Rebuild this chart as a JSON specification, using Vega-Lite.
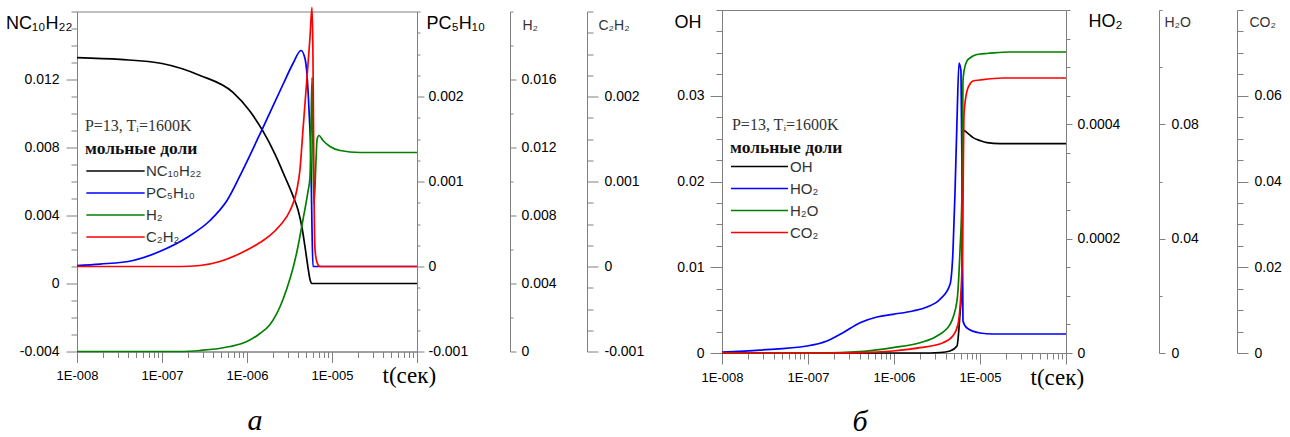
{
  "$schema": "https://vega.github.io/schema/vega-lite/v6.json",
  "background": "white",
  "padding": {"left": 4, "top": 2, "right": 0, "bottom": 0},
  "bounds": "flush",
  "spacing": 305,
  "center": true,
  "config": {
    "view": {"stroke": "#808080", "strokeWidth": 1},
    "axis": {"grid": false, "labelFont": "Liberation Sans", "labelFontSize": 14, "labelColor": "#000", "titleFont": "Liberation Sans", "titleFontWeight": "normal", "titleColor": "#000", "domainColor": "#808080", "tickColor": "#808080", "labelOverlap": false, "labelFlush": false},
    "line": {"strokeWidth": 1.7, "interpolate": "monotone", "clip": true}
  },
  "resolve": {"scale": {"color": "independent"}, "legend": {"color": "independent"}},
  "datasets": {
    "L": [
      {"s": "NC₁₀H₂₂", "t": 1e-8, "v": 0.01329},
      {"s": "NC₁₀H₂₂", "t": 3.21e-8, "v": 0.01318},
      {"s": "NC₁₀H₂₂", "t": 1e-7, "v": 0.01294},
      {"s": "NC₁₀H₂₂", "t": 2.8e-7, "v": 0.01224},
      {"s": "NC₁₀H₂₂", "t": 6.84e-7, "v": 0.011245},
      {"s": "NC₁₀H₂₂", "t": 1.084e-6, "v": 0.010132},
      {"s": "NC₁₀H₂₂", "t": 1.542e-6, "v": 0.00896},
      {"s": "NC₁₀H₂₂", "t": 2.133e-6, "v": 0.007613},
      {"s": "NC₁₀H₂₂", "t": 2.8e-6, "v": 0.006266},
      {"s": "NC₁₀H₂₂", "t": 3.475e-6, "v": 0.005154},
      {"s": "NC₁₀H₂₂", "t": 3.98e-6, "v": 0.004334},
      {"s": "NC₁₀H₂₂", "t": 4.44e-6, "v": 0.00328},
      {"s": "NC₁₀H₂₂", "t": 4.81e-6, "v": 0.002167},
      {"s": "NC₁₀H₂₂", "t": 5.22e-6, "v": 0.000937},
      {"s": "NC₁₀H₂₂", "t": 5.51e-6, "v": 0.000234},
      {"s": "NC₁₀H₂₂", "t": 5.82e-6, "v": 0},
      {"s": "NC₁₀H₂₂", "t": 1e-4, "v": 0},
      {"s": "PC₅H₁₀", "t": 1e-8, "v": 0.000012},
      {"s": "PC₅H₁₀", "t": 1.866e-8, "v": 0.000029},
      {"s": "PC₅H₁₀", "t": 4.56e-8, "v": 0.000071},
      {"s": "PC₅H₁₀", "t": 1e-7, "v": 0.000188},
      {"s": "PC₅H₁₀", "t": 1.97e-7, "v": 0.000341},
      {"s": "PC₅H₁₀", "t": 3.67e-7, "v": 0.000541},
      {"s": "PC₅H₁₀", "t": 5.82e-7, "v": 0.000776},
      {"s": "PC₅H₁₀", "t": 8.98e-7, "v": 0.001141},
      {"s": "PC₅H₁₀", "t": 1.542e-6, "v": 0.001635},
      {"s": "PC₅H₁₀", "t": 2.65e-6, "v": 0.002141},
      {"s": "PC₅H₁₀", "t": 3.475e-6, "v": 0.002388},
      {"s": "PC₅H₁₀", "t": 4.32e-6, "v": 0.002541},
      {"s": "PC₅H₁₀", "t": 4.81e-6, "v": 0.002447},
      {"s": "PC₅H₁₀", "t": 5.08e-6, "v": 0.002259},
      {"s": "PC₅H₁₀", "t": 5.36e-6, "v": 0.001847},
      {"s": "PC₅H₁₀", "t": 5.66e-6, "v": 0.0012},
      {"s": "PC₅H₁₀", "t": 5.82e-6, "v": 0.000435},
      {"s": "PC₅H₁₀", "t": 5.97e-6, "v": 0},
      {"s": "PC₅H₁₀", "t": 1e-4, "v": 0},
      {"s": "H₂", "t": 1e-8, "v": 0},
      {"s": "H₂", "t": 1.63e-7, "v": 0},
      {"s": "H₂", "t": 2.8e-7, "v": 0.000059},
      {"s": "H₂", "t": 6.31e-7, "v": 0.000294},
      {"s": "H₂", "t": 1e-6, "v": 0.000588},
      {"s": "H₂", "t": 1.42e-6, "v": 0.001059},
      {"s": "H₂", "t": 1.866e-6, "v": 0.001588},
      {"s": "H₂", "t": 2.65e-6, "v": 0.003059},
      {"s": "H₂", "t": 3.87e-6, "v": 0.005882},
      {"s": "H₂", "t": 4.56e-6, "v": 0.007765},
      {"s": "H₂", "t": 5.22e-6, "v": 0.009412},
      {"s": "H₂", "t": 5.51e-6, "v": 0.010235},
      {"s": "H₂", "t": 5.66e-6, "v": 0.013059},
      {"s": "H₂", "t": 5.82e-6, "v": 0.016118},
      {"s": "H₂", "t": 5.97e-6, "v": 0.011882},
      {"s": "H₂", "t": 6.14e-6, "v": 0.008647},
      {"s": "H₂", "t": 6.49e-6, "v": 0.011294},
      {"s": "H₂", "t": 6.67e-6, "v": 0.01247},
      {"s": "H₂", "t": 7.03e-6, "v": 0.012706},
      {"s": "H₂", "t": 7.83e-6, "v": 0.012412},
      {"s": "H₂", "t": 9.47e-6, "v": 0.012059},
      {"s": "H₂", "t": 1.242e-5, "v": 0.011824},
      {"s": "H₂", "t": 2.133e-5, "v": 0.011706},
      {"s": "H₂", "t": 1e-4, "v": 0.011706},
      {"s": "C₂H₂", "t": 1e-8, "v": 0},
      {"s": "C₂H₂", "t": 1.63e-7, "v": 0},
      {"s": "C₂H₂", "t": 2.8e-7, "v": 0.000012},
      {"s": "C₂H₂", "t": 4.81e-7, "v": 0.000059},
      {"s": "C₂H₂", "t": 8.28e-7, "v": 0.000153},
      {"s": "C₂H₂", "t": 1.42e-6, "v": 0.000282},
      {"s": "C₂H₂", "t": 1.866e-6, "v": 0.000365},
      {"s": "C₂H₂", "t": 2.44e-6, "v": 0.000482},
      {"s": "C₂H₂", "t": 3.21e-6, "v": 0.000659},
      {"s": "C₂H₂", "t": 3.87e-6, "v": 0.000906},
      {"s": "C₂H₂", "t": 4.2e-6, "v": 0.001141},
      {"s": "C₂H₂", "t": 4.56e-6, "v": 0.001612},
      {"s": "C₂H₂", "t": 5.08e-6, "v": 0.002224},
      {"s": "C₂H₂", "t": 5.51e-6, "v": 0.002694},
      {"s": "C₂H₂", "t": 5.82e-6, "v": 0.00305},
      {"s": "C₂H₂", "t": 5.97e-6, "v": 0.0025},
      {"s": "C₂H₂", "t": 6.14e-6, "v": 0.0009},
      {"s": "C₂H₂", "t": 6.31e-6, "v": 0.0002},
      {"s": "C₂H₂", "t": 6.67e-6, "v": 0.000047},
      {"s": "C₂H₂", "t": 7.22e-6, "v": 0},
      {"s": "C₂H₂", "t": 1e-4, "v": 0}
    ],
    "R": [
      {"s": "OH", "t": 1e-8, "v": 0},
      {"s": "OH", "t": 2.01e-6, "v": 0},
      {"s": "OH", "t": 3.43e-6, "v": 0.00006},
      {"s": "OH", "t": 4.48e-6, "v": 0.00023},
      {"s": "OH", "t": 5.4e-6, "v": 0.00081},
      {"s": "OH", "t": 5.85e-6, "v": 0.00453},
      {"s": "OH", "t": 6.18e-6, "v": 0.00837},
      {"s": "OH", "t": 6.34e-6, "v": 0.02581},
      {"s": "OH", "t": 6.52e-6, "v": 0.02593},
      {"s": "OH", "t": 7.06e-6, "v": 0.0257},
      {"s": "OH", "t": 8.29e-6, "v": 0.02512},
      {"s": "OH", "t": 1e-5, "v": 0.02477},
      {"s": "OH", "t": 1.205e-5, "v": 0.02453},
      {"s": "OH", "t": 1.71e-5, "v": 0.02442},
      {"s": "OH", "t": 1e-4, "v": 0.02442},
      {"s": "HO₂", "t": 1e-8, "v": 0.0000017},
      {"s": "HO₂", "t": 2.77e-8, "v": 0.0000052},
      {"s": "HO₂", "t": 9.73e-8, "v": 0.0000122},
      {"s": "HO₂", "t": 1.66e-7, "v": 0.000021},
      {"s": "HO₂", "t": 2.55e-7, "v": 0.0000355},
      {"s": "HO₂", "t": 4.03e-7, "v": 0.000053},
      {"s": "HO₂", "t": 6.34e-7, "v": 0.000063},
      {"s": "HO₂", "t": 9.73e-7, "v": 0.0000677},
      {"s": "HO₂", "t": 1.66e-6, "v": 0.0000735},
      {"s": "HO₂", "t": 2.42e-6, "v": 0.0000805},
      {"s": "HO₂", "t": 3.43e-6, "v": 0.000094},
      {"s": "HO₂", "t": 4.48e-6, "v": 0.00012},
      {"s": "HO₂", "t": 4.85e-6, "v": 0.000178},
      {"s": "HO₂", "t": 5.12e-6, "v": 0.00028},
      {"s": "HO₂", "t": 5.4e-6, "v": 0.000406},
      {"s": "HO₂", "t": 5.7e-6, "v": 0.000507},
      {"s": "HO₂", "t": 6.01e-6, "v": 0.000493},
      {"s": "HO₂", "t": 6.18e-6, "v": 0.000301},
      {"s": "HO₂", "t": 6.34e-6, "v": 0.000056},
      {"s": "HO₂", "t": 7.06e-6, "v": 0.0000437},
      {"s": "HO₂", "t": 1e-5, "v": 0.000035},
      {"s": "HO₂", "t": 1.415e-5, "v": 0.0000332},
      {"s": "HO₂", "t": 1e-4, "v": 0.0000332},
      {"s": "H₂O", "t": 1e-8, "v": 0},
      {"s": "H₂O", "t": 1.38e-7, "v": 0},
      {"s": "H₂O", "t": 4.03e-7, "v": 0.00047},
      {"s": "H₂O", "t": 9.73e-7, "v": 0.00187},
      {"s": "H₂O", "t": 2.01e-6, "v": 0.0036},
      {"s": "H₂O", "t": 3.16e-6, "v": 0.00595},
      {"s": "H₂O", "t": 4.48e-6, "v": 0.01},
      {"s": "H₂O", "t": 5.4e-6, "v": 0.0182},
      {"s": "H₂O", "t": 5.85e-6, "v": 0.0357},
      {"s": "H₂O", "t": 6.18e-6, "v": 0.05668},
      {"s": "H₂O", "t": 6.34e-6, "v": 0.09516},
      {"s": "H₂O", "t": 6.52e-6, "v": 0.09866},
      {"s": "H₂O", "t": 7.06e-6, "v": 0.10216},
      {"s": "H₂O", "t": 7.65e-6, "v": 0.10321},
      {"s": "H₂O", "t": 8.29e-6, "v": 0.10391},
      {"s": "H₂O", "t": 1e-5, "v": 0.1046},
      {"s": "H₂O", "t": 1.205e-5, "v": 0.10478},
      {"s": "H₂O", "t": 2.23e-5, "v": 0.1053},
      {"s": "H₂O", "t": 1e-4, "v": 0.1053},
      {"s": "CO₂", "t": 1e-8, "v": 0},
      {"s": "CO₂", "t": 1.8e-7, "v": 0},
      {"s": "CO₂", "t": 4.03e-7, "v": 0.00007},
      {"s": "CO₂", "t": 9.73e-7, "v": 0.00047},
      {"s": "CO₂", "t": 2.01e-6, "v": 0.00124},
      {"s": "CO₂", "t": 3.72e-6, "v": 0.0024},
      {"s": "CO₂", "t": 4.85e-6, "v": 0.004},
      {"s": "CO₂", "t": 5.55e-6, "v": 0.0067},
      {"s": "CO₂", "t": 6.18e-6, "v": 0.0199},
      {"s": "CO₂", "t": 6.34e-6, "v": 0.03545},
      {"s": "CO₂", "t": 6.52e-6, "v": 0.05574},
      {"s": "CO₂", "t": 7.06e-6, "v": 0.06111},
      {"s": "CO₂", "t": 7.65e-6, "v": 0.06274},
      {"s": "CO₂", "t": 8.29e-6, "v": 0.06344},
      {"s": "CO₂", "t": 1e-5, "v": 0.06367},
      {"s": "CO₂", "t": 1.85e-5, "v": 0.06414},
      {"s": "CO₂", "t": 1e-4, "v": 0.06414}
    ]
  },
  "hconcat": [
    {
      "width": 340,
      "height": 340,
      "data": {"name": "L"},
      "title": {"text": "а", "orient": "bottom", "anchor": "middle", "frame": "group", "font": "Liberation Serif", "fontStyle": "italic", "fontWeight": "normal", "fontSize": 30, "color": "#000", "baseline": "alphabetic", "offset": 42, "dx": 8},
      "encoding": {
        "x": {"field": "t", "type": "quantitative", "scale": {"type": "log", "domain": [1e-8, 1e-4], "nice": false},
          "axis": {"values": [1e-8,2e-8,3e-8,4e-8,5e-8,6e-8,7e-8,8e-8,9e-8,1e-7,2e-7,3e-7,4e-7,5e-7,6e-7,7e-7,8e-7,9e-7,1e-6,2e-6,3e-6,4e-6,5e-6,6e-6,7e-6,8e-6,9e-6,1e-5,2e-5,3e-5,4e-5,5e-5,6e-5,7e-5,8e-5,9e-5,1e-4],
            "labelExpr": "datum.value == 1e-8 ? '1E-008' : datum.value == 1e-7 ? '1E-007' : datum.value == 1e-6 ? '1E-006' : datum.value == 1e-5 ? '1E-005' : ''",
            "tickSize": {"condition": {"test": "indexof([1e-8,1e-7,1e-6,1e-5,1e-4], datum.value) >= 0", "value": 11}, "value": 6},
            "labelFontSize": 13, "labelPadding": 7,
            "title": "t(сек)", "titleFont": "Liberation Serif", "titleFontSize": 23, "titleAlign": "left", "titleBaseline": "alphabetic", "titleX": 305, "titleY": 31}}
      },
      "layer": [
        {
          "transform": [{"filter": {"field": "s", "equal": "NC₁₀H₂₂"}}],
          "mark": "line",
          "encoding": {
            "color": {"field": "s", "type": "nominal",
              "scale": {"domain": ["NC₁₀H₂₂", "PC₅H₁₀", "H₂", "C₂H₂"], "range": ["#000000", "#0000ff", "#008000", "#ff0000"]},
              "legend": {"orient": "none", "legendX": 8, "legendY": 128, "title": "мольные доли", "titleFont": "Liberation Serif", "titleFontSize": 17.5, "titleFontWeight": "bold", "titleColor": "#111", "titlePadding": 4, "titleLimit": 300, "symbolType": "stroke", "symbolSize": 3400, "symbolStrokeWidth": 2, "clipHeight": 20, "rowPadding": 2, "labelFont": "Liberation Sans", "labelFontSize": 15, "labelColor": "#333", "labelOffset": 0, "labelLimit": 200, "padding": 0}},
            "y": {"field": "v", "type": "quantitative", "scale": {"domain": [-0.004, 0.016], "nice": false, "zero": false},
            "axis": {"orient": "left", "values": [-0.004,-0.003,-0.002,-0.001,0,0.001,0.002,0.003,0.004,0.005,0.006,0.007,0.008,0.009,0.01,0.011,0.012,0.013,0.014,0.015,0.016],
              "labelExpr": "indexof([-0.004,0,0.004,0.008,0.012], datum.value) >= 0 ? toString(datum.value) : ''",
              "tickSize": {"condition": {"test": "indexof([-0.004,0,0.004,0.008,0.012], datum.value) >= 0", "value": 11}, "value": 6},
              "labelPadding": 7,
              "title": "NC₁₀H₂₂", "titleAngle": 0, "titleAlign": "right", "titleBaseline": "alphabetic", "titleX": -5, "titleY": 17, "titleFontSize": 18}}}
        },
        {
          "transform": [{"filter": {"field": "s", "equal": "PC₅H₁₀"}}],
          "mark": "line",
          "encoding": {
            "color": {"field": "s", "type": "nominal"},
            "y": {"field": "v", "type": "quantitative", "scale": {"domain": [-0.001, 0.003], "nice": false, "zero": false},
            "axis": {"orient": "right", "offset": 0, "values": [-0.001,-0.00075,-0.0005,-0.00025,0,0.00025,0.0005,0.00075,0.001,0.00125,0.0015,0.00175,0.002,0.00225,0.0025,0.00275,0.003],
              "labelExpr": "indexof([-0.001,0,0.001,0.002], datum.value) >= 0 ? toString(datum.value) : ''",
              "tickSize": {"condition": {"test": "indexof([-0.001,0,0.001,0.002], datum.value) >= 0", "value": 7}, "value": 3},
              "labelPadding": 4,
              "title": "PC₅H₁₀", "titleAngle": 0, "titleAlign": "left", "titleBaseline": "alphabetic", "titleX": 9, "titleY": 17, "titleFontSize": 18}}}
        },
        {
          "transform": [{"filter": {"field": "s", "equal": "H₂"}}],
          "mark": "line",
          "encoding": {
            "color": {"field": "s", "type": "nominal"},
            "y": {"field": "v", "type": "quantitative", "scale": {"domain": [0, 0.02], "nice": false, "zero": false},
            "axis": {"orient": "right", "offset": 93, "values": [0,0.002,0.004,0.006,0.008,0.01,0.012,0.014,0.016,0.018,0.02],
              "labelExpr": "indexof([0,0.004,0.008,0.012,0.016], datum.value) >= 0 ? toString(datum.value) : ''",
              "tickSize": {"condition": {"test": "indexof([0,0.004,0.008,0.012,0.016], datum.value) >= 0", "value": 6}, "value": 3},
              "labelPadding": 5,
              "title": "H₂", "titleAngle": 0, "titleAlign": "left", "titleBaseline": "alphabetic", "titleX": 12, "titleY": 18, "titleFontSize": 14, "titleColor": "#333"}}}
        },
        {
          "transform": [{"filter": {"field": "s", "equal": "C₂H₂"}}],
          "mark": "line",
          "encoding": {
            "color": {"field": "s", "type": "nominal"},
            "y": {"field": "v", "type": "quantitative", "scale": {"domain": [-0.001, 0.003], "nice": false, "zero": false},
            "axis": {"orient": "right", "offset": 170, "values": [-0.001,-0.00075,-0.0005,-0.00025,0,0.00025,0.0005,0.00075,0.001,0.00125,0.0015,0.00175,0.002,0.00225,0.0025,0.00275,0.003],
              "labelExpr": "indexof([-0.001,0,0.001,0.002], datum.value) >= 0 ? toString(datum.value) : ''",
              "tickSize": {"condition": {"test": "indexof([-0.001,0,0.001,0.002], datum.value) >= 0", "value": 11}, "value": 6},
              "labelPadding": 6,
              "title": "C₂H₂", "titleAngle": 0, "titleAlign": "left", "titleBaseline": "alphabetic", "titleX": 11, "titleY": 18, "titleFontSize": 14, "titleColor": "#333"}}}
        },
        {
          "data": {"values": [{"note": "P=13, Tᵢ=1600K", "t": 1.24e-8, "v": 0.00925}]},
          "mark": {"type": "text", "align": "left", "baseline": "middle", "font": "Liberation Serif", "fontSize": 16, "color": "#333"},
          "encoding": {
            "y": {"field": "v", "type": "quantitative", "scale": {"domain": [-0.004, 0.016], "nice": false, "zero": false}, "axis": null},
            "text": {"field": "note", "type": "nominal"}
          }
        }
      ],
      "resolve": {"scale": {"y": "independent"}, "axis": {"y": "independent"}}
    },
    {
      "width": 344,
      "height": 343,
      "data": {"name": "R"},
      "title": {"text": "б", "orient": "bottom", "anchor": "middle", "frame": "group", "font": "Liberation Serif", "fontStyle": "italic", "fontWeight": "normal", "fontSize": 30, "color": "#000", "baseline": "alphabetic", "offset": 42, "dx": -34},
      "encoding": {
        "x": {"field": "t", "type": "quantitative", "scale": {"type": "log", "domain": [1e-8, 1e-4], "nice": false},
          "axis": {"values": [1e-8,2e-8,3e-8,4e-8,5e-8,6e-8,7e-8,8e-8,9e-8,1e-7,2e-7,3e-7,4e-7,5e-7,6e-7,7e-7,8e-7,9e-7,1e-6,2e-6,3e-6,4e-6,5e-6,6e-6,7e-6,8e-6,9e-6,1e-5,2e-5,3e-5,4e-5,5e-5,6e-5,7e-5,8e-5,9e-5,1e-4],
            "labelExpr": "datum.value == 1e-8 ? '1E-008' : datum.value == 1e-7 ? '1E-007' : datum.value == 1e-6 ? '1E-006' : datum.value == 1e-5 ? '1E-005' : ''",
            "tickSize": {"condition": {"test": "indexof([1e-8,1e-7,1e-6,1e-5,1e-4], datum.value) >= 0", "value": 11}, "value": 6},
            "labelFontSize": 13, "labelPadding": 7,
            "title": "t(сек)", "titleFont": "Liberation Serif", "titleFontSize": 23, "titleAlign": "left", "titleBaseline": "alphabetic", "titleX": 308, "titleY": 31}}
      },
      "layer": [
        {
          "transform": [{"filter": {"field": "s", "equal": "OH"}}],
          "mark": "line",
          "encoding": {
            "color": {"field": "s", "type": "nominal",
              "scale": {"domain": ["OH", "HO₂", "H₂O", "CO₂"], "range": ["#000000", "#0000ff", "#008000", "#ff0000"]},
              "legend": {"orient": "none", "legendX": 8, "legendY": 129, "title": "мольные доли", "titleFont": "Liberation Serif", "titleFontSize": 17.5, "titleFontWeight": "bold", "titleColor": "#111", "titlePadding": 0, "titleLimit": 300, "symbolType": "stroke", "symbolSize": 3250, "symbolStrokeWidth": 2, "clipHeight": 20, "rowPadding": 2, "labelFont": "Liberation Sans", "labelFontSize": 15, "labelColor": "#333", "labelOffset": 1, "labelLimit": 200, "padding": 0}},
            "y": {"field": "v", "type": "quantitative", "scale": {"domain": [0, 0.04], "nice": false, "zero": false},
            "axis": {"orient": "left", "values": [0,0.0025,0.005,0.0075,0.01,0.0125,0.015,0.0175,0.02,0.0225,0.025,0.0275,0.03,0.0325,0.035,0.0375,0.04],
              "labelExpr": "indexof([0,0.01,0.02,0.03], datum.value) >= 0 ? toString(datum.value) : ''",
              "tickSize": {"condition": {"test": "indexof([0,0.01,0.02,0.03], datum.value) >= 0", "value": 12}, "value": 6},
              "labelPadding": 6,
              "title": "OH", "titleAngle": 0, "titleAlign": "right", "titleBaseline": "alphabetic", "titleX": -21, "titleY": 17, "titleFontSize": 18}}}
        },
        {
          "transform": [{"filter": {"field": "s", "equal": "HO₂"}}],
          "mark": "line",
          "encoding": {
            "color": {"field": "s", "type": "nominal"},
            "y": {"field": "v", "type": "quantitative", "scale": {"domain": [0, 0.0006], "nice": false, "zero": false},
            "axis": {"orient": "right", "offset": 0, "values": [0,0.00005,0.0001,0.00015,0.0002,0.00025,0.0003,0.00035,0.0004,0.00045,0.0005,0.00055,0.0006],
              "labelExpr": "indexof([0,0.0002,0.0004], datum.value) >= 0 ? toString(datum.value) : ''",
              "tickSize": {"condition": {"test": "indexof([0,0.0002,0.0004], datum.value) >= 0", "value": 6}, "value": 4},
              "labelPadding": 5,
              "title": "HO₂", "titleAngle": 0, "titleAlign": "left", "titleBaseline": "alphabetic", "titleX": 22, "titleY": 16, "titleFontSize": 18}}}
        },
        {
          "transform": [{"filter": {"field": "s", "equal": "H₂O"}}],
          "mark": "line",
          "encoding": {
            "color": {"field": "s", "type": "nominal"},
            "y": {"field": "v", "type": "quantitative", "scale": {"domain": [0, 0.12], "nice": false, "zero": false},
            "axis": {"orient": "right", "offset": 93, "values": [0,0.02,0.04,0.06,0.08,0.1,0.12],
              "labelExpr": "indexof([0,0.04,0.08], datum.value) >= 0 ? toString(datum.value) : ''",
              "tickSize": {"condition": {"test": "indexof([0,0.04,0.08], datum.value) >= 0", "value": 6}, "value": 3},
              "labelPadding": 6,
              "title": "H₂O", "titleAngle": 0, "titleAlign": "left", "titleBaseline": "alphabetic", "titleX": 5, "titleY": 16, "titleFontSize": 14, "titleColor": "#333"}}}
        },
        {
          "transform": [{"filter": {"field": "s", "equal": "CO₂"}}],
          "mark": "line",
          "encoding": {
            "color": {"field": "s", "type": "nominal"},
            "y": {"field": "v", "type": "quantitative", "scale": {"domain": [0, 0.08], "nice": false, "zero": false},
            "axis": {"orient": "right", "offset": 171, "values": [0,0.005,0.01,0.015,0.02,0.025,0.03,0.035,0.04,0.045,0.05,0.055,0.06,0.065,0.07,0.075,0.08],
              "labelExpr": "indexof([0,0.02,0.04,0.06], datum.value) >= 0 ? toString(datum.value) : ''",
              "tickSize": {"condition": {"test": "indexof([0,0.02,0.04,0.06], datum.value) >= 0", "value": 11}, "value": 6},
              "labelPadding": 6,
              "title": "CO₂", "titleAngle": 0, "titleAlign": "left", "titleBaseline": "alphabetic", "titleX": 12, "titleY": 16, "titleFontSize": 14, "titleColor": "#333"}}}
        },
        {
          "data": {"values": [{"note": "P=13, Tᵢ=1600K", "t": 1.306e-8, "v": 0.02663}]},
          "mark": {"type": "text", "align": "left", "baseline": "middle", "font": "Liberation Serif", "fontSize": 16, "color": "#333"},
          "encoding": {
            "y": {"field": "v", "type": "quantitative", "scale": {"domain": [0, 0.04], "nice": false, "zero": false}, "axis": null},
            "text": {"field": "note", "type": "nominal"}
          }
        }
      ],
      "resolve": {"scale": {"y": "independent"}, "axis": {"y": "independent"}}
    }
  ]
}
